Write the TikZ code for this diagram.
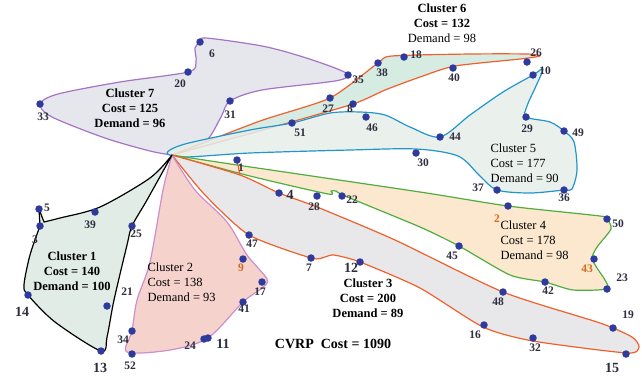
\documentclass[tikz,border=0pt]{standalone}
\usepackage{fontspec}
\setmainfont{Liberation Serif}
\usetikzlibrary{positioning, backgrounds}
\definecolor{dotblue}{HTML}{2E3B9C}
\definecolor{numgray}{HTML}{2E2E3E}
\definecolor{numorange}{HTML}{D2691E}
\definecolor{fill7}{HTML}{E2E3EA}
\definecolor{line7}{HTML}{A673C6}
\definecolor{fill6}{HTML}{CFE7DD}
\definecolor{line63}{HTML}{F0602C}
\definecolor{fill5}{HTML}{E6EEEA}
\definecolor{line5}{HTML}{2196CC}
\definecolor{fill4}{HTML}{FBE4C6}
\definecolor{line4}{HTML}{4FAE3E}
\definecolor{fill3}{HTML}{E4E4E6}
\definecolor{fill2}{HTML}{F4CAC4}
\definecolor{line2}{HTML}{CC8FCC}
\definecolor{fill1}{HTML}{DAE9E1}

\begin{document}
\begin{tikzpicture}[x=1pt, y=-1pt,
  dot/.style={circle, fill=dotblue, inner sep=0pt, minimum size=7.5pt},
  num/.style={font=\bfseries\fontsize{11.5}{13}\selectfont, text=numgray, inner sep=0pt},
  bignum/.style={num, font=\bfseries\fontsize{14}{15}\selectfont},
  orangenum/.style={num, text=numorange},
  route/.style={line width=1.2pt, line join=round, fill opacity=0.85},
  info/.style={align=center, font=\bfseries\fontsize{12.5}{15}\selectfont},
  infolight/.style={align=left, anchor=west, font=\fontsize{12.5}{15}\selectfont}]
\useasboundingbox (0,0) rectangle (642,376);
\coordinate (depot) at (172,155);
\coordinate (tick) at (240,175);

% customers: number / dot / label
\foreach \n/\x/\y/\lx/\ly in {1/237/160/241/168, 3/40/226/35/240, 5/39/209/47/208,
  6/200/42/212/54, 7/311/258/309/268, 8/353/104/350/109, 10/533/75/545/71,
  16/484/325/475/335, 17/262/282/260/292, 18/404/57/416/55, 19/613/328/628/315,
  20/188/72/180/84, 21/107/306/127/292, 22/342/196/352/200, 23/607/289/622/278,
  24/204/339/190/346, 25/132/226/136/234, 26/527/62/536/53, 27/330/98/328/109,
  28/317/196/314/207, 29/526/117/527/129, 30/416/153/423/163, 31/230/101/230/115,
  32/533/338/535/348, 33/40/104/43/117, 34/132/331/123/340, 35/348/75/358/80,
  36/564/190/564/198, 37/497/190/478/188, 38/378/63/382/73, 39/95/212/90/225,
  40/453/68/454/78, 41/243/302/244/309, 42/545/282/548/291, 44/440/137/455/137,
  45/459/246/452/256, 46/366/117/372/128, 47/249/235/252/244, 48/503/292/498/302,
  49/564/131/578/133, 50/607/219/618/224, 51/292/123/300/133, 52/132/354/130/366}{
  \node[dot] (c\n) at (\x,\y) {};
  \node[num] (l\n) at (\lx,\ly) {\n};
}
\foreach \n/\x/\y/\lx/\ly in {4/279/193/290/195, 11/208/338/223/344, 12/360/262/351/268,
  13/101/351/100/368, 14/28/295/22/312, 15/626/354/612/368}{
  \node[dot] (c\n) at (\x,\y) {};
  \node[bignum] (l\n) at (\lx,\ly) {\n};
}
\foreach \n/\x/\y/\lx/\ly in {2/508/206/497/219, 9/243/259/241/268, 43/594/259/587/269}{
  \node[dot] (c\n) at (\x,\y) {};
  \node[orangenum] (l\n) at (\lx,\ly) {\n};
}

\begin{scope}[on background layer]
% Cluster 7
\draw[route, draw=line7, fill=fill7] plot[smooth, tension=0.5] coordinates {(depot) (205,142) (221,117)
  (c31.center) (262,90) (335,81) (c35.center) (335,68) (300,56) (262,46) (206,38) (c6.center) (195,48)
  (196,62) (c20.center) (120,82) (58,94) (c33.center) (52,117) (105,138) (150,151) (depot)} -- cycle;
% Cluster 6
\draw[route, draw=line63, fill=fill6] plot[smooth, tension=0.4] coordinates {(depot) (260,121)
  (c27.center) (c38.center) (392,56) (470,54) (527,54) (540,56) (520,59) (455,66) (420,77) (385,90)
  (c8.center) (270,128) (depot)} -- cycle;
% Cluster 5
\draw[route, draw=line5, fill=fill5] plot[smooth cycle, tension=0.5] coordinates {(167,153) (185,144)
  (250,130) (c51.center) (330,113) (360,112) (385,115) (410,127) (c44.center) (470,115) (503,92)
  (c10.center) (543,69) (536,86) (527,106) (c29.center) (550,122) (c49.center) (574,142) (577,170)
  (572,189) (c36.center) (530,193) (c37.center) (480,176) (458,156) (416,149) (350,150) (250,153) (185,157)};
% Cluster 4
\draw[route, draw=line4, fill=fill4] plot[smooth, tension=0.4] coordinates {(depot) (237,165) (420,192)
  (c2.center) (600,216) (c50.center) (611,229) (597,247) (592,258) (597,268) (605,280) (c23.center)
  (573,290) (c42.center) (510,275) (c45.center) (420,227) (345,196) (336,191) (331,191) (328,194)
  (250,176) (depot)} -- cycle;
% Cluster 3
\draw[route, draw=line63, fill=fill3] plot[smooth, tension=0.4] coordinates {(depot) (tick) (c4.center)
  (317,207) (395,240) (c48.center) (600,323) (632,337) (639,347) (627,353) (533,341) (483,327)
  (420,288) (c12.center) (334,255) (325,257) (c7.center) (c47.center) (205,195) (depot)} -- cycle;
\draw[line63, line width=1.2pt] (c1.center) -- (tick);
% Cluster 2
\draw[route, draw=line2, fill=fill2] plot[smooth, tension=0.5] coordinates {(depot) (195,190) (227,222)
  (247,255) (267,279) (262,288) (c41.center) (c11.center) (170,350) (127,352) (c34.center) (137,300)
  (150,262) (163,190) (depot)} -- cycle;
% Cluster 1
\draw[route, draw=black, fill=fill1] plot[smooth, tension=0.5] coordinates {(depot) (150,178) (100,207)
  (60,218) (44,222)} -- (c5.center) -- plot[smooth, tension=0.5] coordinates {(c3.center) (30,255)
  (24,285) (c14.center) (55,322) (c13.center) (107,337) (114,300) (127,245) (c25.center) (147,200)
  (depot)} -- cycle;
\end{scope}

\node[info] (info7) at (130,108) {Cluster 7\\Cost = 125\\Demand = 96};
\node[align=center, font=\fontsize{12.5}{15}\selectfont] (info6) at (442,23) {\textbf{Cluster 6}\\\textbf{Cost = 132}\\Demand = 98};
\node[infolight] (info5) at (487,163) {Cluster 5\\Cost = 177\\Demand = 90};
\node[infolight] (info4) at (497,240) {Cluster 4\\Cost = 178\\Demand = 98};
\node[info] (info3) at (368,298) {Cluster 3\\Cost = 200\\Demand = 89};
\node[infolight] (info2) at (144,282) {Cluster 2\\Cost = 138\\Demand = 93};
\node[info] (info1) at (72,271) {Cluster 1\\Cost = 140\\Demand = 100};
\node[font=\bfseries\fontsize{14}{16}\selectfont] (total) at (333,344) {CVRP\ \ Cost = 1090};
\end{tikzpicture}
\end{document}
